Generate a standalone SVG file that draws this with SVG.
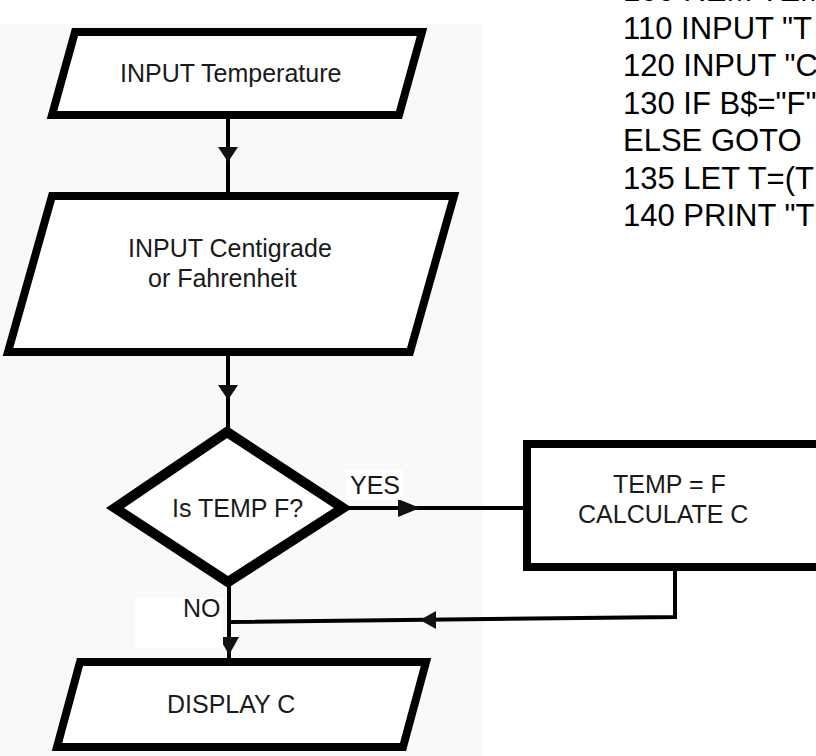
<svg xmlns="http://www.w3.org/2000/svg" width="816" height="756" viewBox="0 0 816 756">
<style>
.bg{fill:#f9f9f9}
.pad{fill:#ffffff}
.shape{fill:#ffffff;stroke:#000;stroke-width:8;stroke-linejoin:miter}
.dia{fill:#ffffff;stroke:#000;stroke-width:10;stroke-linejoin:miter}
.con{fill:none;stroke:#000;stroke-width:4}
.head{fill:#111;stroke:none}
.lbl{font-family:"Liberation Sans",Arial,Helvetica,sans-serif;font-size:25px;fill:#1a1a1a}
.code{font-family:"Liberation Sans",Arial,Helvetica,sans-serif;font-size:31px;fill:#000}
</style>
<rect class="bg" x="0" y="0" width="816" height="756"/>
<rect class="pad" x="483" y="0" width="333" height="756"/>
<rect class="pad" x="0" y="0" width="483" height="24"/>

<g id="code">
<text class="code" x="623" y="1">100 REM TEM</text>
<text class="code" x="623" y="38.5">110 INPUT "T</text>
<text class="code" x="623" y="76">120 INPUT "C</text>
<text class="code" x="623" y="113.5">130 IF B$="F"</text>
<text class="code" x="623" y="151">ELSE GOTO</text>
<text class="code" x="623" y="188.5">135 LET T=(T</text>
<text class="code" x="623" y="226">140 PRINT "T</text>
</g>

<g id="connectors">
<line class="con" x1="228" y1="115" x2="228" y2="196"/>
<polygon class="head" points="218,147 238,147 228,162"/>
<line class="con" x1="228" y1="352" x2="228" y2="432"/>
<polygon class="head" points="218,385 238,385 228,400"/>
<line class="con" x1="343" y1="508" x2="527" y2="508"/>
<polygon class="head" points="398,499 398,517 420,508"/>
<polyline class="con" points="675,567 675,617 229,622"/>
<polygon class="head" points="420,620 436,611 436,629"/>
<line class="con" x1="229" y1="582" x2="229" y2="662"/>
<polygon class="head" points="219,637 239,637 229,655"/>
</g>

<g id="n1">
<polygon class="shape" points="75,32 422,32 399,115 52,115"/>
<text class="lbl" x="120" y="82">INPUT Temperature</text>
</g>

<g id="n2">
<polygon class="shape" points="52,196 454,196 410,352 8,352"/>
<text class="lbl" x="128" y="257">INPUT Centigrade</text>
<text class="lbl" x="148" y="287">or Fahrenheit</text>
</g>

<g id="n3">
<polygon class="dia" points="227,432 343,508 228,582 115,508"/>
<text class="lbl" x="172" y="517">Is TEMP F?</text>
</g>

<g id="n4">
<rect class="shape" x="527" y="444" width="300" height="123"/>
<text class="lbl" x="613" y="493">TEMP = F</text>
<text class="lbl" x="578" y="523">CALCULATE C</text>
</g>

<g id="n5">
<polygon class="shape" points="80,662 426,662 403,747 57,747"/>
<text class="lbl" x="167" y="713">DISPLAY C</text>
</g>

<g id="labels">
<rect class="pad" x="345" y="470" width="58" height="30"/>
<rect class="pad" x="135" y="598" width="88" height="50"/>
<text class="lbl" x="350" y="494">YES</text>
<text class="lbl" x="183" y="617">NO</text>
</g>
</svg>
